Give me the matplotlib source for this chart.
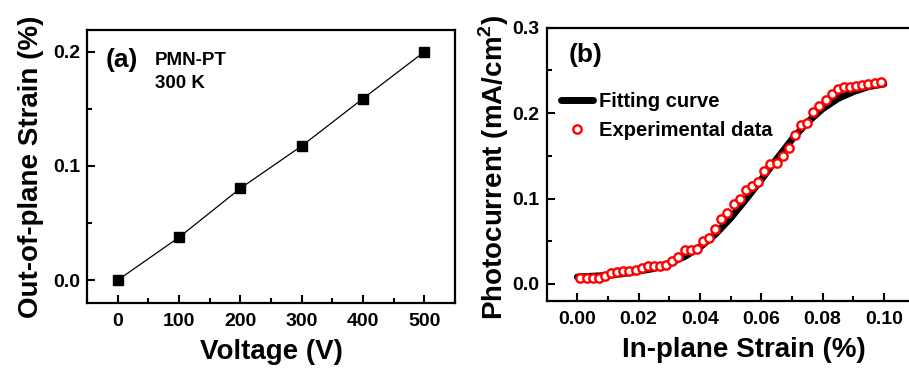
import numpy as np
import matplotlib
matplotlib.use('Agg')
from matplotlib import pyplot as plt
from matplotlib.ticker import MultipleLocator, FormatStrFormatter

plt.rcParams['font.family'] = ['Liberation Sans', 'DejaVu Sans']
plt.rcParams['font.weight'] = 'bold'
plt.rcParams['mathtext.fontset'] = 'custom'
plt.rcParams['mathtext.rm'] = 'Liberation Sans:bold'
plt.rcParams['mathtext.bf'] = 'Liberation Sans:bold'

# (a) strain vs voltage
voltage = [0, 100, 200, 300, 400, 500]
strain_out = [0.0, 0.0375, 0.0804, 0.1175, 0.159, 0.2]

# (b) photocurrent vs in-plane strain
exp_strain = [0.001, 0.003, 0.005, 0.007, 0.009, 0.011, 0.013, 0.015, 0.017, 0.019,
              0.021, 0.023, 0.025, 0.027, 0.029, 0.031, 0.033, 0.035, 0.037, 0.039,
              0.041, 0.043, 0.045, 0.047, 0.049, 0.051, 0.053, 0.055, 0.057, 0.059,
              0.061, 0.063, 0.065, 0.067, 0.069, 0.071, 0.073, 0.075, 0.077, 0.079,
              0.081, 0.083, 0.085, 0.087, 0.089, 0.091, 0.093, 0.095, 0.097, 0.099]
exp_current = [0.007, 0.007, 0.007, 0.007, 0.009, 0.013, 0.0136, 0.015, 0.0156, 0.016,
               0.019, 0.021, 0.021, 0.021, 0.022, 0.0265, 0.031, 0.040, 0.040, 0.041,
               0.050, 0.054, 0.064, 0.076, 0.083, 0.093, 0.099, 0.110, 0.115, 0.119,
               0.132, 0.140, 0.142, 0.150, 0.159, 0.174, 0.186, 0.188, 0.201, 0.208,
               0.215, 0.222, 0.228, 0.230, 0.231, 0.232, 0.233, 0.234, 0.235, 0.236]
fit_strain = [0.000, 0.005, 0.010, 0.015, 0.020, 0.025, 0.030, 0.035, 0.040, 0.045,
              0.050, 0.055, 0.060, 0.065, 0.070, 0.075, 0.080, 0.085, 0.090, 0.095, 0.100]
fit_current = [0.008, 0.009, 0.010, 0.012, 0.015, 0.018, 0.024, 0.032, 0.043, 0.058,
               0.077, 0.099, 0.122, 0.146, 0.169, 0.189, 0.205, 0.217, 0.225, 0.231, 0.234]

fig = plt.figure(figsize=(9.09, 3.7), dpi=100)
axa = fig.add_axes([0.0957, 0.181, 0.405, 0.738])
axb = fig.add_axes([0.6014, 0.1865, 0.4046, 0.7386])


def style(ax):
    for s in ax.spines.values():
        s.set_linewidth(1.6)
    ax.tick_params(which='both', direction='in', width=1.5, labelsize=14)
    ax.tick_params(which='major', length=6)
    ax.tick_params(which='minor', length=3.5)
    ax.tick_params(axis='x', pad=7)
    ax.tick_params(axis='y', pad=5)


# panel a
axa.plot(voltage, strain_out, color='black', lw=0.9, marker='s', ms=7.5)
axa.set_xlim(-50, 550)
axa.set_ylim(-0.02, 0.219)
axa.xaxis.set_major_locator(MultipleLocator(100))
axa.xaxis.set_minor_locator(MultipleLocator(50))
axa.yaxis.set_major_locator(MultipleLocator(0.1))
axa.yaxis.set_minor_locator(MultipleLocator(0.05))
axa.yaxis.set_major_formatter(FormatStrFormatter('%.1f'))
style(axa)
axa.set_xlabel('Voltage (V)', fontsize=20, fontweight='bold')
axa.set_ylabel('Out-of-plane Strain (%)', fontsize=20, fontweight='bold')
axa.xaxis.set_label_coords(0.5, -0.13)
axa.yaxis.set_label_coords(-0.118, 0.5)
axa.text(0.05, 0.89, '(a)', transform=axa.transAxes, fontsize=19, va='center')
axa.text(0.185, 0.92, 'PMN-PT\n300 K', transform=axa.transAxes, fontsize=13.5,
         va='top', linespacing=1.45)

# panel b
axb.plot(fit_strain, fit_current, color='black', lw=5, solid_capstyle='round',
         label='Fitting curve')
axb.plot(exp_strain, exp_current, ls='none', marker='o', ms=6, mfc='white',
         mec='red', mew=1.7, label='Experimental data')
axb.set_xlim(-0.01, 0.11)
axb.set_ylim(-0.02, 0.3)
axb.xaxis.set_major_locator(MultipleLocator(0.02))
axb.xaxis.set_minor_locator(MultipleLocator(0.01))
axb.yaxis.set_major_locator(MultipleLocator(0.1))
axb.yaxis.set_minor_locator(MultipleLocator(0.05))
axb.xaxis.set_major_formatter(FormatStrFormatter('%.2f'))
axb.yaxis.set_major_formatter(FormatStrFormatter('%.1f'))
style(axb)
axb.set_xlabel('In-plane Strain (%)', fontsize=20, fontweight='bold')
axb.set_ylabel(r'Photocurrent (mA/cm$^\mathbf{2}$)', fontsize=20, fontweight='bold')
axb.xaxis.set_label_coords(0.536, -0.13)
axb.yaxis.set_label_coords(-0.098, 0.49)
axb.text(0.06, 0.90, '(b)', transform=axb.transAxes, fontsize=19, va='center')
axb.legend(loc='upper left', bbox_to_anchor=(0.005, 0.81), frameon=False,
           fontsize=14.5, handlelength=1.6, handletextpad=0.3, labelspacing=0.5,
           borderaxespad=0.2)

fig.savefig('out.png', dpi=100)
